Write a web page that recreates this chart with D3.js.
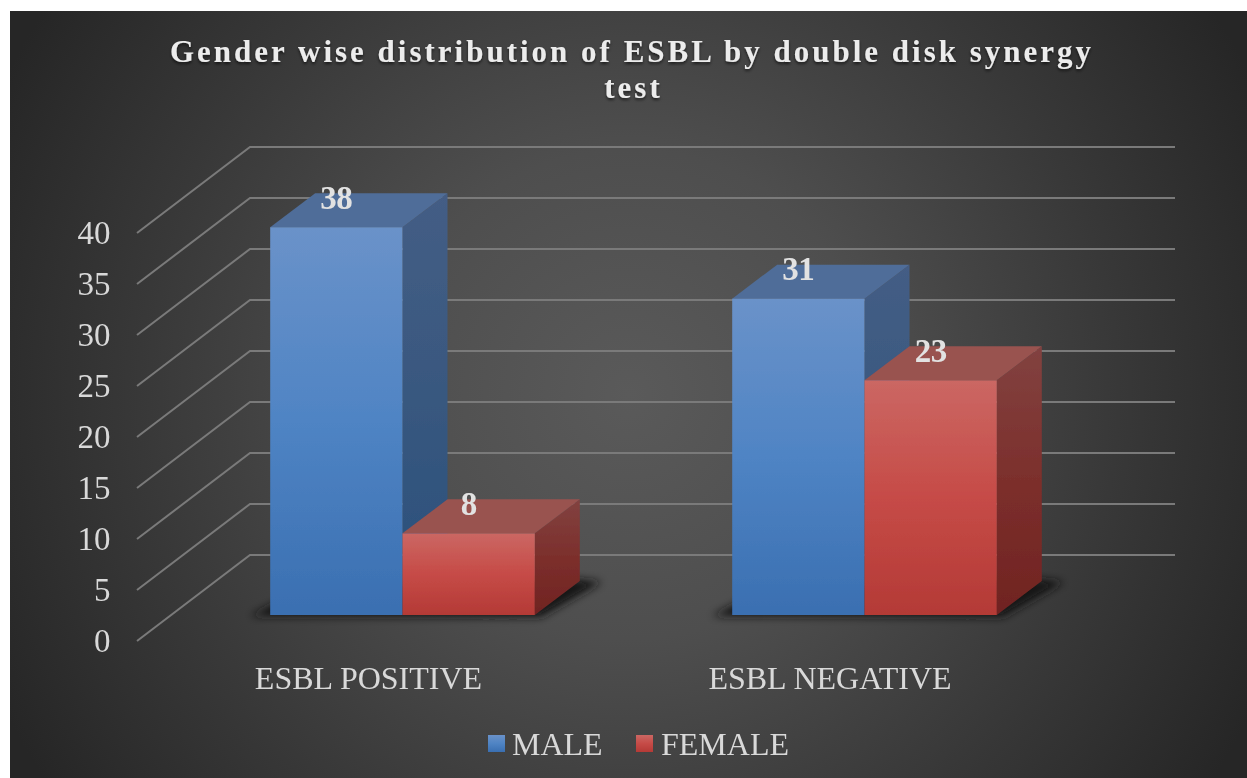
<!DOCTYPE html>
<html><head><meta charset="utf-8">
<script src="https://cdnjs.cloudflare.com/ajax/libs/d3/7.8.5/d3.min.js"></script>
<style>html,body{margin:0;padding:0;background:#fff;overflow:hidden}svg{display:block}text{font-family:"Liberation Serif",serif}</style>
</head><body><svg id="c" width="1247" height="778"></svg>
<script>
const titleLines=["Gender wise distribution of ESBL by double disk synergy","test"];
const categories=["ESBL POSITIVE","ESBL NEGATIVE"];
const seriesNames=["MALE","FEMALE"];
const male=[38,31];
const female=[8,23];
const yTicks=[0,5,10,15,20,25,30,35,40];

const svg=d3.select("#c"),defs=svg.append("defs");
const panel={x:10,y:11,w:1237,h:767};
const depth={x:45,y:-34};
const wallDepth={x:113,y:-86};
const x0=d3.scaleBand().domain(categories).range([171.5,1095.5]);
const barW=132.3;
const yFront=d3.scaleLinear().domain([0,40]).range([641,233]);
const yBar=d3.scaleLinear().domain([0,40]).range([615,206.8]);

const bg=defs.append("radialGradient").attr("id","bg").attr("gradientUnits","userSpaceOnUse")
 .attr("cx",panel.x+panel.w/2).attr("cy",panel.y+panel.h/2).attr("r",700);
[[0,"#5a5a5a"],[0.35,"#4e4e4e"],[0.7,"#383838"],[1,"#262626"]].forEach(([o,c])=>bg.append("stop").attr("offset",o).attr("stop-color",c));
const gr=(id,top)=>{const g=defs.append("linearGradient").attr("id",id).attr("x1",0).attr("y1",0).attr("x2",0).attr("y2",1);
 top.forEach((c,i)=>g.append("stop").attr("offset",i/(top.length-1)).attr("stop-color",c));};
gr("bFront",["#6a92c9","#4f84c4","#3a6fb1"]);
gr("rFront",["#cb6763","#c64b47","#b43a36"]);
gr("bSide",["#445d85","#38587f","#284e7c"]);
gr("rSide",["#824240","#7c2f2c","#702321"]);
defs.append("filter").attr("id","blur").attr("x","-20%").attr("y","-40%").attr("width","140%").attr("height","180%").append("feGaussianBlur").attr("stdDeviation",4.5);
defs.append("filter").attr("id","soft").append("feGaussianBlur").attr("stdDeviation",0.5);
const ts=defs.append("filter").attr("id","tshadow").attr("x","-5%").attr("y","-20%").attr("width","110%").attr("height","150%");
ts.append("feDropShadow").attr("dx",0).attr("dy",2).attr("stdDeviation",1.5).attr("flood-color","#000").attr("flood-opacity",0.6);

svg.append("rect").attr("x",panel.x).attr("y",panel.y).attr("width",panel.w).attr("height",panel.h).attr("fill","url(#bg)");

const gridG=svg.append("g").attr("filter","url(#soft)");
gridG.selectAll("path").data(yTicks).join("path")
 .attr("d",d=>{const y=yFront(d);return `M137,${y}L${137+wallDepth.x},${y+wallDepth.y}L1175,${y+wallDepth.y}`;})
 .attr("fill","none").attr("stroke","#7a7a7a").attr("stroke-width",2);

svg.append("g").attr("filter","url(#soft)").selectAll("text").data(yTicks).join("text")
 .attr("x",110.5).attr("y",d=>yFront(d)+10.5).attr("text-anchor","end")
 .attr("font-size",33).attr("fill","#d9d9d9").text(d=>d);
svg.append("g").attr("filter","url(#soft)").selectAll("text").data(categories).join("text")
 .attr("x",(d,i)=>i===0?368.5:830).attr("y",689).attr("text-anchor","middle")
 .attr("font-size",32).attr("fill","#d9d9d9").text(d=>d);

const bars=categories.flatMap((c,i)=>[{c,s:0,v:male[i]},{c,s:1,v:female[i]}]);
const X=d=>x0(d.c)+x0.bandwidth()/2+(d.s-1)*barW;
const pts=a=>a.map(p=>p.join(",")).join(" ");
const base=yBar(0);
categories.forEach(c=>{
 const l=x0(c)+x0.bandwidth()/2-barW;
 const r=l+2*barW;
 svg.append("polygon").attr("filter","url(#blur)").attr("fill","#141414")
  .attr("points",pts([[l-20,base+1],[r+6,base+2],[r+depth.x+22,base+depth.y+1],[r+depth.x-4,base+depth.y-2],[l+30,base-24]]));
});
const g=svg.append("g").attr("filter","url(#soft)");
bars.forEach(d=>{
 const x=X(d),y=yBar(d.v),b=barW,blue=d.s===0;
 g.append("polygon").attr("points",pts([[x+b,y],[x+b+depth.x,y+depth.y],[x+b+depth.x,base+depth.y],[x+b,base]])).attr("fill",`url(#${blue?"bSide":"rSide"})`);
});
bars.forEach(d=>{
 const x=X(d),y=yBar(d.v),b=barW,blue=d.s===0;
 g.append("polygon").attr("points",pts([[x,y],[x+depth.x,y+depth.y],[x+b+depth.x,y+depth.y],[x+b,y]])).attr("fill",blue?"#4f6d99":"#99524f");
 g.append("rect").attr("x",x).attr("y",y).attr("width",b).attr("height",base-y).attr("fill",`url(#${blue?"bFront":"rFront"})`);
});
svg.append("g").attr("filter","url(#soft)").selectAll("text").data(bars).join("text")
 .attr("x",d=>X(d)+barW/2).attr("y",d=>yBar(d.v)-18.5).attr("text-anchor","middle")
 .attr("font-size",33).attr("font-weight","bold").attr("letter-spacing",-0.5).attr("fill","#e2e2e2").text(d=>d.v);

svg.append("g").attr("filter","url(#tshadow)").selectAll("text").data(titleLines).join("text")
 .attr("x",(d,i)=>i?633.5:632).attr("y",(d,i)=>62+i*36).attr("text-anchor","middle")
 .attr("font-size",31).attr("font-weight","bold").attr("letter-spacing",3).attr("fill","#ececec").text(d=>d);

const legendX=[488,636],labelX=[512,661];
const leg=svg.append("g");
seriesNames.forEach((n,i)=>{
 leg.append("rect").attr("x",legendX[i]).attr("y",735).attr("width",17).attr("height",17).attr("fill",`url(#${i?"rFront":"bFront"})`);
 leg.append("text").attr("filter","url(#soft)").attr("x",labelX[i]).attr("y",755).attr("font-size",32).attr("fill","#d9d9d9").text(n);
});
</script></body></html>
